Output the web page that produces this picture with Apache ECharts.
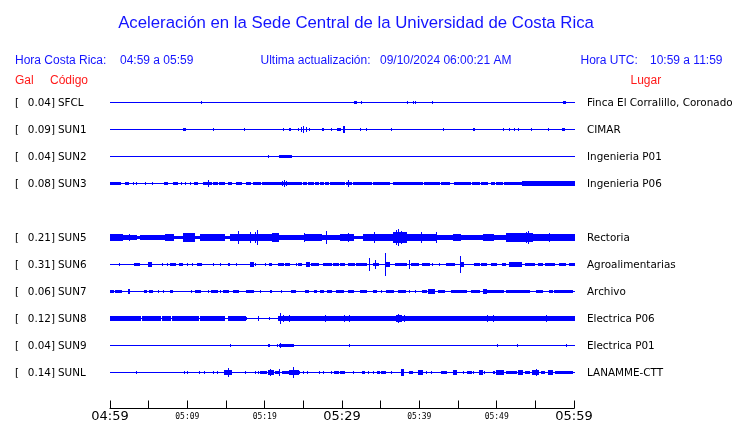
<!DOCTYPE html>
<html><head><meta charset="utf-8">
<script src="https://cdn.jsdelivr.net/npm/echarts@6/dist/echarts.min.js"></script>
<style>html,body{margin:0;padding:0;background:#fff}#c{width:740px;height:423px}</style>
</head><body><div id="c"></div>
<script>
// ---- data ----
const TITLE = 'Aceleración en la Sede Central de la Universidad de Costa Rica';
const TIME_CR = '04:59 a 05:59';
const TIME_UTC = '10:59 a 11:59';
const UPDATED = '09/10/2024 06:00:21 AM';
const TICK_LABELS = ['04:59','','05:09','','05:19','','05:29','','05:39','','05:49','','05:59'];
const STATIONS = ['SFCL','SUN1','SUN2','SUN3','SUN5','SUN6','SUN7','SUN8','SUN9','SUNL'];
const PEAK_GAL = ['0.04','0.09','0.04','0.08','0.21','0.31','0.06','0.12','0.04','0.14'];
const PLACES = ['Finca El Corralillo, Coronado','CIMAR','Ingenieria P01','Ingenieria P06','Rectoria','Agroalimentarias','Archivo','Electrica P06','Electrica P01','LANAMME-CTT'];
const ROWS = [0,1,2,3,5,6,7,8,9,10];
const TRACE_SPAN = [0, 60]; // minutes after 04:59

// bursts: [start minute, end minute, half amplitude (relative)]
const EV_SFCL = [[11.8,11.8,1.5],[31.6,31.8,1.5],[32.4,32.4,1],[38.4,38.4,1],[39.2,39.2,1],[39.5,39.5,1.5],[41.7,41.7,1],[58.6,58.8,1.5]];
const EV_SUN1 = [[9.5,9.7,1.5],[13.3,13.3,1.2],[17.3,17.3,1.2],[22.4,22.4,1.2],[23.1,23.3,1.2],[24.3,24.3,1],[24.7,24.7,2.5],[25.0,25.0,3],[25.3,25.3,2],[25.7,25.7,1.5],[27.4,27.5,1.5],[28.6,28.6,1],[29.3,29.7,1],[30.1,30.2,3.5],[32.3,32.3,1.2],[33.1,33.1,1],[36.3,36.3,1.2],[43.0,43.0,1.2],[47.0,47.1,1.2],[50.8,50.8,0.8],[51.6,51.6,1.2],[52.2,52.3,1.5],[52.8,52.8,1.2],[54.5,54.5,1.2],[56.7,56.7,1.2],[58.4,58.7,1.5]];
const EV_SUN2 = [[20.4,20.4,1],[21.9,22.6,1.5],[22.6,22.9,1],[22.9,23.4,1.5]];
const EV_SUN3 = [[0,1.3,1.5],[1.9,2.3,1.2],[3.0,3.0,1.2],[3.3,3.3,1.2],[4.5,4.5,1.2],[5.4,5.4,1.2],[7.0,7.4,1.5],[8.2,8.7,1.5],[9.2,9.2,1.2],[9.7,9.7,1.2],[10.3,10.3,1.2],[10.8,11.3,1.5],[12.0,13.1,1.5],[12.7,12.7,3],[13.3,13.8,1.5],[14.1,14.8,1.5],[15.3,15.7,1.2],[16.3,17.0,1.5],[17.6,18.1,1.2],[18.5,19.4,1.5],[19.6,21.7,1.5],[21.9,24.7,1.5],[22.2,22.2,2.5],[22.5,22.5,3.5],[22.8,22.8,2.5],[25.0,25.4,1.2],[25.6,26.2,1.5],[26.5,26.9,1.2],[27.1,27.6,1.2],[27.8,28.2,1.2],[28.4,30.3,1.5],[30.5,31.2,1.5],[30.8,30.8,3],[31.4,31.8,1.2],[32.0,33.8,1.5],[34.0,35.9,1.5],[36.1,36.1,1.2],[36.6,40.4,1.5],[40.6,41.1,1.2],[41.3,42.6,1.5],[42.8,43.8,1.2],[44.5,46.0,1.5],[46.2,46.5,1.2],[46.8,47.7,1.5],[48.0,48.8,1.2],[49.3,49.7,1.2],[49.9,50.7,1.2],[50.9,53.3,1.5],[53.3,57.2,1.7],[57.2,60,1.7]];
const EV_SUN5 = [[0,1.5,3],[1.5,3.4,2.5],[2.4,2.4,3.5],[3.4,3.9,1],[3.9,6.2,2.5],[6.2,7.1,2],[7.1,8.2,3.5],[8.2,9.5,1.5],[9.5,10.8,4],[10.8,11.6,1],[11.6,14.8,3],[14.8,15.5,1.5],[15.5,17.0,3.5],[16.5,16.5,6],[17.0,19.6,3.5],[18.15,18.15,5],[18.8,18.8,5.5],[19.05,19.05,7.5],[19.6,20.9,3],[20.9,21.7,4],[21.7,25.2,2.5],[25.1,25.1,4.5],[25.2,27.3,3],[27.3,30.3,2.5],[27.9,27.9,6],[29.7,31.4,3],[30.75,30.75,4.5],[31.4,32.7,1.5],[32.7,36.6,3],[34.1,34.1,5],[36.6,38.3,5.5],[37.0,37.0,7],[37.3,37.3,8.5],[37.6,37.6,6.5],[38.3,42.2,3.5],[40.2,40.2,5],[42.2,42.2,5],[42.2,44.3,2.5],[44.3,45.2,3.5],[45.2,48.2,2],[48.2,49.5,3],[49.5,51.2,2.5],[51.2,52.9,4],[52.9,54.6,4],[53.8,53.8,5.5],[54.1,54.1,6],[54.6,60,3],[56.8,56.8,4.5]];
const EV_SUN6 = [[1.2,1.2,1],[3.1,3.7,1.5],[4.9,5.3,2.5],[6.75,6.75,1.5],[7.4,7.4,1.2],[7.8,8.4,1.5],[8.9,9.25,1.5],[10.0,10.0,1.2],[10.6,10.6,1.2],[11.2,11.8,1.5],[13.3,13.3,1.2],[14.2,14.2,1.2],[15.2,15.4,1.2],[16.3,16.3,1.2],[18.1,18.5,2],[18.8,18.8,1.2],[20.1,20.1,1.2],[20.5,20.8,1.5],[21.7,22.4,1.5],[22.6,23.0,1.5],[23.2,23.2,1.2],[24.0,24.0,1.2],[24.3,24.7,1.5],[25.3,25.7,2.5],[26.0,26.9,1.5],[27.5,28.0,1.5],[28.1,28.6,1.2],[28.8,29.5,1.5],[29.7,30.3,1.5],[30.8,31.6,1.5],[31.8,33.1,1.5],[33.55,33.55,6],[34.0,34.6,1.5],[34.3,34.3,4],[35.6,35.6,11],[35.7,36.1,2],[36.8,38.3,1.5],[38.6,38.6,4],[38.9,39.8,1.5],[40.4,41.3,1.5],[41.7,41.7,1.2],[42.5,42.5,1.2],[43.4,44.5,1.5],[45.2,45.7,2],[45.3,45.3,8],[47.1,47.7,1.2],[48.0,48.6,1.5],[49.3,49.9,1.5],[50.7,51.1,1.5],[51.6,53.1,2],[53.6,54.8,1.5],[55.3,55.9,1.5],[56.3,57.4,1.5],[58.1,58.9,1.5],[59.4,60,1.5]];
const EV_SUN7 = [[0,0.4,1.5],[0.6,1.0,1.5],[1.2,1.4,1.2],[2.3,2.45,2.5],[4.4,4.6,1.5],[5.0,5.4,1.5],[6.2,6.2,1.2],[6.9,6.9,1.2],[7.7,8.0,1.5],[10.45,10.45,1.2],[11.0,11.6,1.5],[12.7,12.7,1.2],[13.1,13.8,1.5],[14.2,14.2,1.2],[14.6,15.3,1.5],[15.9,16.6,1.5],[17.6,18.5,1.5],[19.35,19.35,1.2],[20.65,20.86,1.5],[22.15,22.15,1.2],[23.4,23.9,1.5],[25.2,25.6,1.5],[26.4,26.7,1.5],[27.1,27.5,1.2],[28.1,28.6,1.5],[29.2,30.1,1.5],[30.8,31.4,1.5],[32.3,33.1,1.5],[34.0,34.4,1.2],[35.1,35.1,1.2],[35.7,36.6,1.5],[37.2,38.1,1.5],[38.7,38.7,1.2],[39.5,39.5,1.2],[40.4,40.9,1.2],[41.1,41.9,2],[42.4,43.2,1.5],[44.1,46.0,1.5],[46.7,47.7,1.5],[48.2,48.6,2.5],[48.6,50.8,1.5],[51.2,54.2,1.5],[55.1,55.9,1.5],[56.8,57.2,1.2],[57.4,59.8,1.5]];
const EV_SUN8 = [[0,2.6,2],[2.7,3.9,2],[4.1,4.4,2],[4.5,5.8,2],[6.0,6.5,2],[6.7,7.7,2],[8.0,11.4,2],[11.6,14.8,2],[15.2,17.4,2],[17.6,17.6,1.2],[19.2,19.2,2.5],[20.6,20.6,1.2],[21.7,23.7,2.5],[22.0,22.0,5],[22.4,22.4,3.5],[23.1,23.1,3.5],[23.7,30.3,2],[27.8,27.8,3],[29.7,60,2],[30.3,30.3,2.7],[30.9,30.9,2.7],[37.0,37.6,3.5],[37.25,37.25,4.2],[38.0,38.0,2.7],[39.6,39.6,2.3],[40.4,40.4,2.3],[48.8,48.8,3.2],[49.5,49.5,2.7],[50.7,50.7,2.3],[51.2,51.2,2.3],[56.4,56.4,2.7]];
const EV_SUN9 = [[15.5,15.5,1],[20.4,20.5,1.5],[21.6,21.6,1],[21.8,23.6,1.5],[22.0,22.0,2.5],[30.9,30.9,1.5],[50.0,50.0,1],[52.6,52.6,1],[59.0,59.0,1]];
const EV_SUNL = [[3.35,3.35,1],[9.6,9.6,1],[10.0,10.0,1.2],[11.5,11.5,1],[12.2,12.2,1],[13.3,13.3,1],[13.8,13.8,1.5],[14.8,15.7,2],[15.3,15.3,4.5],[17.4,17.4,1],[18.7,18.7,1],[19.1,19.1,1.2],[19.4,20.2,1.5],[20.4,21.1,2.5],[20.7,20.7,3.5],[21.3,21.7,1.5],[21.9,21.9,3],[22.2,23.0,1.5],[23.2,24.3,2.5],[23.6,23.6,5],[24.3,24.5,1.5],[24.9,24.9,1],[25.5,25.5,1],[27.0,27.0,1],[27.6,27.6,1],[28.6,28.6,1],[29.0,29.5,1.2],[29.7,30.3,1.5],[31.4,31.4,1.2],[32.6,32.9,1.5],[33.3,33.3,1.2],[34.0,34.0,1.2],[34.5,34.8,1.5],[35.1,35.5,1.2],[36.3,36.3,1.2],[37.6,37.9,3],[38.7,39.1,1.5],[39.8,40.3,2],[40.8,40.8,1.2],[41.5,41.5,1.2],[42.8,43.4,1.5],[44.3,44.7,2],[45.6,45.6,1.2],[46.2,46.7,1.2],[46.9,46.9,1.2],[47.7,48.1,2.5],[48.4,48.4,1.2],[49.5,49.7,1.5],[49.9,50.8,2],[51.2,51.8,1.5],[52.0,52.5,1.2],[52.7,53.3,2.5],[53.6,54.2,1.5],[54.6,55.4,2.5],[55.1,55.1,3.5],[55.7,56.1,1.5],[56.6,57.2,2],[57.6,58.3,1.5],[58.5,59.8,1.5]];
const EVENTS = [EV_SFCL,EV_SUN1,EV_SUN2,EV_SUN3,EV_SUN5,EV_SUN6,EV_SUN7,EV_SUN8,EV_SUN9,EV_SUNL];

// ---- styles ----
const BLUE = '#0000ff', TXT_BLUE = '#1414ff', RED = '#ff1a1a';
const AMP_TO_ROW = 1/27;
const HEAD_FONT = 'Liberation Sans, Arial, sans-serif';
const LABEL_FONT = 'DejaVu Sans, sans-serif';

const traceData = [];
ROWS.forEach((row, i) => {
  traceData.push([TRACE_SPAN[0], TRACE_SPAN[1], 0, row]);
  EVENTS[i].forEach(e => traceData.push([e[0], e[1], e[2], row]));
});

function renderTrace(params, api) {
  const t0 = api.value(0), t1 = api.value(1), amp = api.value(2), row = api.value(3);
  const p0 = api.coord([t0, row]), p1 = api.coord([t1, row]);
  const half = api.size([0, amp * AMP_TO_ROW])[1];
  const cy = Math.round(p0[1]);
  const top = Math.round(cy - half), bot = Math.round(cy + half) + 1;
  const left = Math.round(p0[0]);
  const right = Math.max(left + 1, Math.round(p1[0]) + 1);
  return {type: 'rect', shape: {x: left, y: top, width: right - left, height: bot - top}, style: {fill: BLUE}};
}

function rowLabel(arr) {
  return v => { const i = ROWS.indexOf(Math.round(v)); return i < 0 ? '' : arr(i); };
}
// label axes live on a second grid placed 1.5px lower (text baseline alignment)
function yAx(position, margin, align, fmt) {
  return {
    gridIndex: 1, type: 'value', min: 0, max: 10, interval: 1, inverse: true, position: position,
    axisLine: {show: false}, axisTick: {show: false}, splitLine: {show: false},
    axisLabel: {margin: margin, align: align, formatter: fmt, color: '#000',
      fontFamily: LABEL_FONT, fontSize: 10.4, showMinLabel: true, showMaxLabel: true}
  };
}

const chart = echarts.init(document.getElementById('c'), null, {renderer: 'canvas'});
const txt = (x, y, s, color, size, align) => ({type: 'text', x: x, y: y,
  style: {text: s, fill: color, font: (size || 12) + 'px ' + HEAD_FONT, textAlign: align || 'left', textVerticalAlign: 'middle'}});

chart.setOption({
  animation: false,
  backgroundColor: '#fff',
  grid: [
    {left: 110, right: 166, top: 102, bottom: 51, containLabel: false},
    {left: 110, right: 166, top: 103.5, bottom: 49.5, containLabel: false}
  ],
  xAxis: [{
    type: 'value', min: 0, max: 60, interval: 5, position: 'bottom', offset: 37,
    axisLine: {show: true, onZero: false, lineStyle: {color: '#000', width: 1}},
    axisTick: {show: true, inside: true, length: 8, lineStyle: {color: '#000', width: 1}},
    splitLine: {show: false},
    axisLabel: {
      margin: 2, showMinLabel: true, showMaxLabel: true, color: '#000',
      formatter: v => { const i = Math.round(v / 5); const l = TICK_LABELS[i]; if (!l) return ''; return (i % 6 === 0 ? '{big|' : '{small|') + l + '}'; },
      rich: {
        big: {fontFamily: LABEL_FONT, fontSize: 13, lineHeight: 12, color: '#000'},
        small: {fontFamily: 'DejaVu Sans Mono, monospace', fontSize: 8, lineHeight: 12, color: '#000'}
      }
    }
  }, {
    gridIndex: 1, type: 'value', min: 0, max: 60, show: false
  }],
  yAxis: [
    {type: 'value', min: 0, max: 10, interval: 1, inverse: true, show: false},
    yAx('left', 95, 'left', rowLabel(i => '[')),
    yAx('left', 55, 'right', rowLabel(i => PEAK_GAL[i] + ']')),
    yAx('left', 52, 'left', rowLabel(i => STATIONS[i])),
    yAx('right', 13, 'left', rowLabel(i => PLACES[i]))
  ],
  series: [{
    type: 'custom', renderItem: renderTrace, clip: false, xAxisIndex: 0, yAxisIndex: 0,
    encode: {x: [0, 1], y: 3}, data: traceData, silent: true
  }],
  graphic: [
    txt(356, 23.5, TITLE, TXT_BLUE, 16.8, 'center'),
    txt(15, 61, 'Hora Costa Rica:', TXT_BLUE),
    txt(120, 61, TIME_CR, TXT_BLUE),
    txt(260.5, 61, 'Ultima actualización:', TXT_BLUE),
    txt(380, 61, UPDATED, TXT_BLUE),
    txt(580.5, 61, 'Hora UTC:', TXT_BLUE),
    txt(650, 61, TIME_UTC, TXT_BLUE),
    txt(15, 81, 'Gal', RED),
    txt(50, 81, 'Código', RED),
    txt(630.5, 81, 'Lugar', RED)
  ]
});
</script></body></html>
